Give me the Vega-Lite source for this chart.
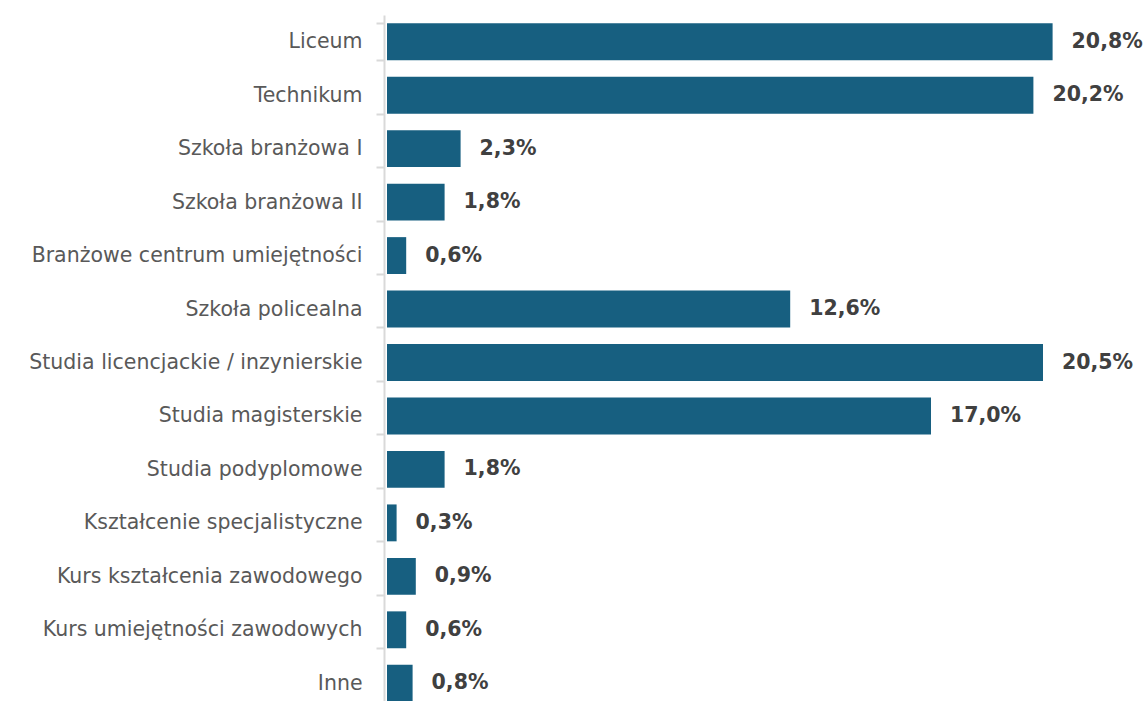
{
  "$schema": "https://vega.github.io/schema/vega-lite/v6.json",
  "autosize": {"type": "none"},
  "padding": {"left": 387, "top": 15, "right": 21, "bottom": 0},
  "width": 736,
  "height": 695,
  "background": "white",
  "config": {
    "view": {"stroke": null},
    "locale": {"number": {"decimal": ",", "thousands": " ", "grouping": [3], "currency": ["", " zł"]}}
  },
  "data": {
    "values": [
      {"kategoria": "Liceum", "udzial": 0.208},
      {"kategoria": "Technikum", "udzial": 0.202},
      {"kategoria": "Szkoła branżowa I", "udzial": 0.023},
      {"kategoria": "Szkoła branżowa II", "udzial": 0.018},
      {"kategoria": "Branżowe centrum umiejętności", "udzial": 0.006},
      {"kategoria": "Szkoła policealna", "udzial": 0.126},
      {"kategoria": "Studia licencjackie / inzynierskie", "udzial": 0.205},
      {"kategoria": "Studia magisterskie", "udzial": 0.170},
      {"kategoria": "Studia podyplomowe", "udzial": 0.018},
      {"kategoria": "Kształcenie specjalistyczne", "udzial": 0.003},
      {"kategoria": "Kurs kształcenia zawodowego", "udzial": 0.009},
      {"kategoria": "Kurs umiejętności zawodowych", "udzial": 0.006},
      {"kategoria": "Inne", "udzial": 0.008}
    ]
  },
  "encoding": {
    "y": {
      "field": "kategoria",
      "type": "nominal",
      "sort": null,
      "scale": {"paddingInner": 0.31, "paddingOuter": 0.155},
      "axis": {
        "title": null,
        "offset": 3,
        "tickBand": "extent",
        "domainColor": "#d9d9d9",
        "domainWidth": 2,
        "tickColor": "#d9d9d9",
        "tickWidth": 2,
        "tickSize": 8,
        "labelPadding": 14,
        "labelFont": "DejaVu Sans",
        "labelFontSize": 20.5,
        "labelColor": "#595959",
        "labelLimit": 400
      }
    },
    "x": {
      "field": "udzial",
      "type": "quantitative",
      "scale": {"domain": [0, 0.23]},
      "axis": null
    }
  },
  "layer": [
    {"mark": {"type": "bar", "color": "#175f80"}},
    {
      "mark": {"type": "text", "align": "left", "baseline": "middle", "dx": 19, "font": "DejaVu Sans", "fontWeight": "bold", "fontSize": 20.5, "color": "#404040"},
      "encoding": {"text": {"field": "udzial", "type": "quantitative", "format": ".1%"}}
    }
  ]
}
